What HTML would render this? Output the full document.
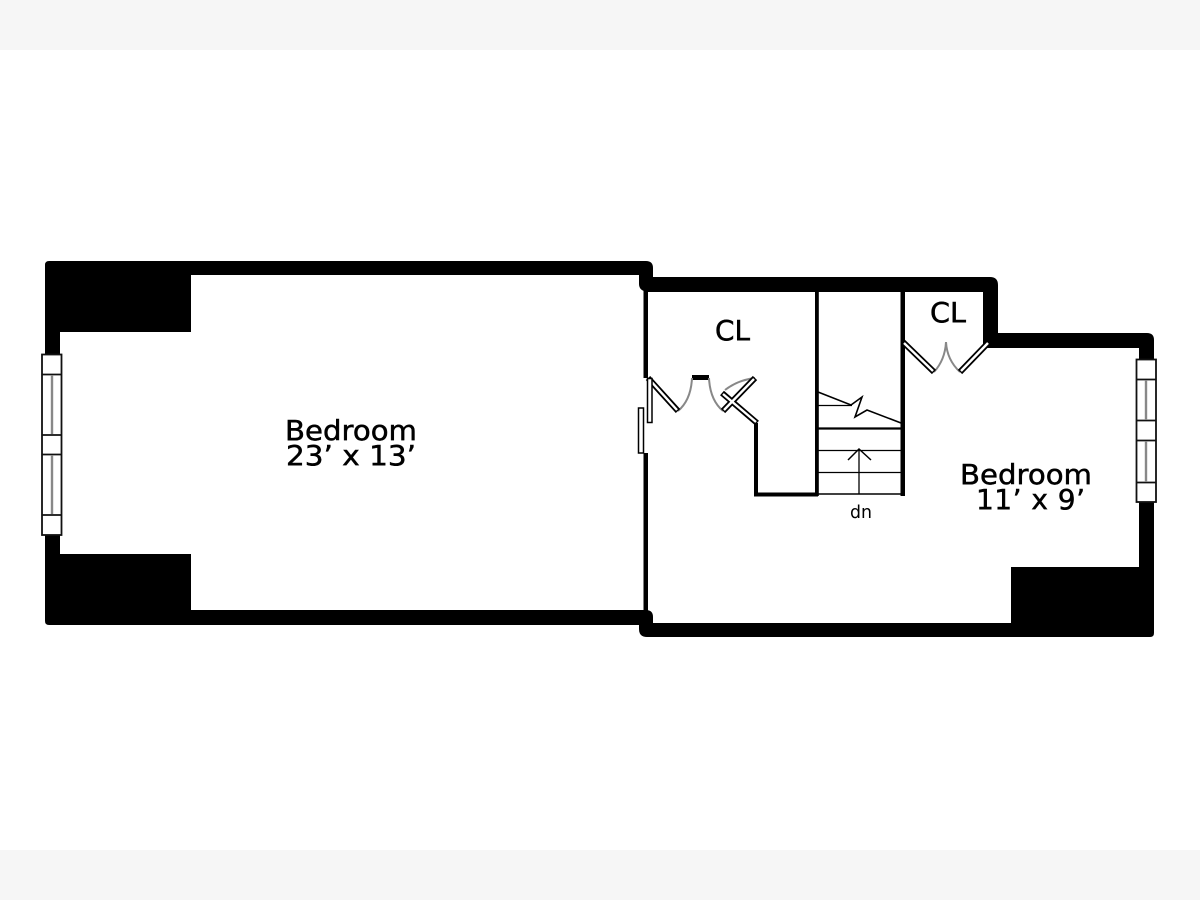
<!DOCTYPE html>
<html>
<head>
<meta charset="utf-8">
<style>
html,body{margin:0;padding:0;background:#fff;width:1200px;height:900px;overflow:hidden}
svg{display:block}
text{font-family:"DejaVu Sans","Liberation Sans",sans-serif;fill:#000;stroke:#000;stroke-width:.5}
</style>
</head>
<body>
<svg width="1200" height="900" viewBox="0 0 1200 900" xmlns="http://www.w3.org/2000/svg">
<rect width="1200" height="900" fill="#fff"/>
<rect width="1200" height="50" fill="#f6f6f6"/>
<rect y="850" width="1200" height="50" fill="#f6f6f6"/>

<!-- Left room walls -->
<g fill="#000">
<path d="M49 261H646Q653 261 653 268V277H639V275H191V332H60V355H45V265Q45 261 49 261Z"/>
<path d="M45 535H60V554H191V610H646Q653 610 653 617V625H49Q45 625 45 621Z"/>

<!-- Right room walls -->
<path d="M639 277H990Q998 277 998 285V333H1147Q1154 333 1154 340V360H1139V348H983V292H648Q639 291 639 284Z"/>
<path d="M1139 502H1154V633Q1154 637 1150 637H647Q639 637 639 629V623H1011V567H1139Z"/>

<!-- Interior walls -->
<rect x="643.5" y="285" width="4.5" height="93"/>
<rect x="643.5" y="453" width="4.5" height="172"/>
<rect x="754" y="423" width="4" height="73"/>
<rect x="754" y="492.5" width="64" height="4"/>
<rect x="815" y="290" width="3.8" height="206"/>
<rect x="900.5" y="290" width="4.5" height="206"/>
<rect x="692" y="375" width="17" height="5"/>
</g>

<!-- Left window -->
<g fill="#fff" stroke="#111" stroke-width="1.8">
<rect x="42" y="354.5" width="19.5" height="180.5"/>
<path d="M42 374.5H61.5M42 435H61.5M42 454.5H61.5M42 515H61.5" fill="none"/>
</g>
<path d="M52 375V434M52 455V514" stroke="#888" stroke-width="2.4" fill="none"/>

<!-- Right window -->
<g fill="#fff" stroke="#111" stroke-width="1.8">
<rect x="1136.5" y="359.5" width="19.5" height="142.5"/>
<path d="M1136.5 379.5H1156M1136.5 420.5H1156M1136.5 440.5H1156M1136.5 482.5H1156" fill="none"/>
</g>
<path d="M1146 380V420M1146 441V482" stroke="#888" stroke-width="2.4" fill="none"/>

<!-- Door arcs -->
<g fill="none" stroke="#888" stroke-width="2">
<path d="M678 411Q691 400 692 378"/>
<path d="M709 378Q710 400 723 411"/>
<path d="M725 390Q738 380 755 378"/>
<path d="M934 372Q945 360 946 342"/>
<path d="M946 342Q947 360 960 372"/>
</g>

<!-- Door leaves: black outline with white core -->
<g fill="none" stroke="#000" stroke-width="6" stroke-linecap="butt">
<path d="M648 378L678 411"/>
<path d="M723 411L755 378"/>
<path d="M722 393L757 423"/>
<path d="M903 342L934 372"/>
<path d="M960 372L989 342"/>
</g>
<g fill="none" stroke="#fff" stroke-width="2.4">
<path d="M649 379L677 410"/>
<path d="M724 410L754 379"/>
<path d="M723 394L756 422"/>
<path d="M904 343L933 371"/>
<path d="M961 371L988 343"/>
</g>
<rect x="647.5" y="378.5" width="4.5" height="44" fill="#fff" stroke="#000" stroke-width="1.5"/>
<rect x="638.5" y="408" width="5" height="45" fill="#fff" stroke="#000" stroke-width="1.5"/>

<!-- Stairs -->
<g fill="none" stroke="#000">
<path d="M818 405.5H852" stroke-width="1.3"/>
<path d="M818 428.5H902" stroke-width="2.2"/>
<path d="M818 450.5H902M818 472.5H902" stroke-width="1.3"/>
<path d="M818 494H902" stroke-width="1.6"/>
<path d="M818 392L851 405L862 397L855 417L867 410L901 423" stroke-width="1.6"/>
<path d="M859 449V494" stroke-width="1.3"/>
<path d="M848 460L859 449L871 460" stroke-width="1.5"/>
</g>

<!-- Labels -->
<text x="285" y="440" font-size="28" textLength="132" lengthAdjust="spacingAndGlyphs">Bedroom</text>
<text x="286" y="465" font-size="28" textLength="130" lengthAdjust="spacingAndGlyphs">23’ x 13’</text>
<text x="960" y="484" font-size="28" textLength="132" lengthAdjust="spacingAndGlyphs">Bedroom</text>
<text x="976" y="509" font-size="28" textLength="109" lengthAdjust="spacing">11’ x 9’</text>
<text x="715" y="340" font-size="28" textLength="35" lengthAdjust="spacingAndGlyphs">CL</text>
<text x="930" y="322" font-size="28" textLength="36" lengthAdjust="spacingAndGlyphs">CL</text>
<text x="850" y="518" font-size="18" textLength="22" lengthAdjust="spacingAndGlyphs" style="stroke-width:0">dn</text>
</svg>
</body>
</html>
